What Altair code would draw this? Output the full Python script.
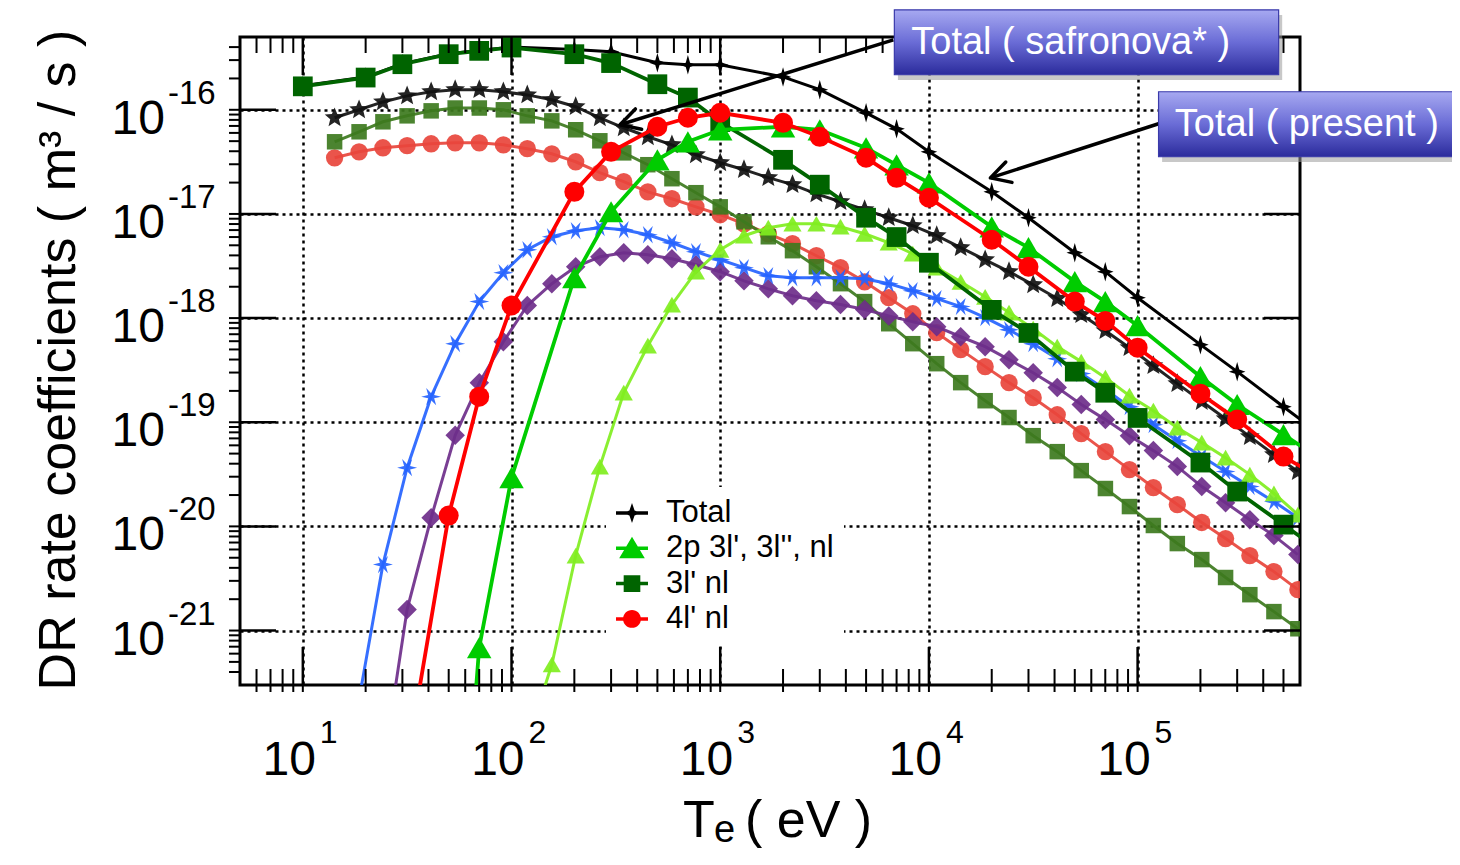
import altair as alt
import pandas as pd

# ---------------- values ----------------
# "present" calculation (crisp curves)
T_PRESENT = [10, 20, 30, 50, 70, 100, 200, 300, 500, 700, 1000, 2000, 3000, 5000, 7000,
             1e4, 2e4, 3e4, 5e4, 7e4, 1e5, 2e5, 3e5, 5e5, 7e5]
TOTAL_PRESENT = [1.70e-16, 2.06e-16, 2.77e-16, 3.45e-16, 3.72e-16, 4.00e-16, 3.80e-16, 3.61e-16,
                 2.83e-16, 2.70e-16, 2.70e-16, 2.07e-16, 1.56e-16, 9.36e-17, 6.57e-17, 3.95e-17,
                 1.63e-17, 9.20e-18, 4.25e-18, 2.79e-18, 1.57e-18, 5.56e-19, 3.06e-19, 1.41e-19, 8.5e-20]
L3_PRESENT = [1.68e-16, 2.04e-16, 2.74e-16, 3.42e-16, 3.68e-16, 3.96e-16, 3.42e-16, 2.81e-16,
              1.76e-16, 1.31e-16, 7.62e-17, 3.31e-17, 1.91e-17, 9.2e-18, 6.0e-18, 3.4e-18,
              1.2e-18, 7.2e-19, 3.06e-19, 1.92e-19, 1.1e-19, 4.1e-20, 2.16e-20, 1.04e-20, 6.4e-21]
L4_PRESENT = [None, None, 3e-23, 1.27e-20, 1.76e-19, 1.32e-18, 1.63e-17, 3.95e-17,
              6.87e-17, 8.38e-17, 9.36e-17, 7.5e-17, 5.5e-17, 3.46e-17, 2.22e-17, 1.43e-17,
              5.65e-18, 3.11e-18, 1.44e-18, 9.4e-19, 5.2e-19, 1.88e-19, 1.06e-19, 4.68e-20, 3.17e-20]
L2P_PRESENT = [None, None, None, 1e-25, 6.87e-22, 2.94e-20, 2.44e-18, 1.05e-17,
               3.31e-17, 4.93e-17, 6.43e-17, 6.87e-17, 6.43e-17, 4.31e-17, 2.96e-17, 1.99e-17,
               7.53e-18, 4.74e-18, 2.24e-18, 1.44e-18, 8.45e-19, 2.74e-19, 1.48e-19, 7.6e-20, 4.9e-20]

# Safronova curves (pasted, soft-looking curves)
T_SAF = [14.2, 18.6, 24.2, 31.6, 41.2, 53.7, 70.1, 91.4, 119, 156, 203, 265, 345, 450, 587,
         765, 1000, 1300, 1700, 2220, 2890, 3770, 4920, 6420, 8370, 10900, 14200, 18600,
         24200, 31600, 41200, 53700, 70100, 91400, 119000, 155000, 203000, 264000, 345000,
         450000, 586000]
TOTAL_SAF = [8.38e-17, 1.00e-16, 1.19e-16, 1.36e-16, 1.49e-16, 1.56e-16, 1.56e-16, 1.49e-16,
             1.39e-16, 1.25e-16, 1.07e-16, 8.38e-17, 6.72e-17, 5.51e-17, 4.61e-17, 3.70e-17,
             3.10e-17, 2.66e-17, 2.23e-17, 1.91e-17, 1.56e-17, 1.31e-17, 1.10e-17, 9.2e-18,
             7.71e-18, 6.18e-18, 4.74e-18, 3.63e-18, 2.79e-18, 2.09e-18, 1.54e-18, 1.08e-18,
             7.57e-19, 5.20e-19, 3.49e-19, 2.35e-19, 1.58e-19, 1.08e-19, 7.28e-20, 4.89e-20, 3.36e-20]
L3_SAF = [4.93e-17, 6.15e-17, 7.67e-17, 8.75e-17, 9.77e-17, 1.04e-16, 1.04e-16, 1.00e-16,
          8.75e-17, 7.83e-17, 6.43e-17, 5.04e-17, 3.86e-17, 2.97e-17, 2.18e-17, 1.60e-17,
          1.17e-17, 8.41e-18, 6.04e-18, 4.44e-18, 3.11e-18, 2.14e-18, 1.44e-18, 8.83e-19,
          5.68e-19, 3.65e-19, 2.40e-19, 1.61e-19, 1.11e-19, 7.43e-20, 5.22e-20, 3.43e-20,
          2.31e-20, 1.55e-20, 1.02e-20, 6.84e-21, 4.80e-21, 3.23e-21, 2.21e-21, 1.52e-21, 1.04e-21]
L4_SAF = [3.46e-17, 3.95e-17, 4.32e-17, 4.52e-17, 4.72e-17, 4.82e-17, 4.82e-17, 4.61e-17,
          4.23e-17, 3.78e-17, 3.17e-17, 2.49e-17, 2.04e-17, 1.63e-17, 1.40e-17, 1.17e-17,
          9.83e-18, 8.05e-18, 6.45e-18, 5.18e-18, 3.97e-18, 3.05e-18, 2.23e-18, 1.57e-18,
          1.10e-18, 7.24e-19, 4.98e-19, 3.42e-19, 2.40e-19, 1.72e-19, 1.18e-19, 7.78e-20,
          5.22e-20, 3.51e-20, 2.36e-20, 1.62e-20, 1.09e-20, 7.64e-21, 5.25e-21, 3.68e-21, 2.47e-21]
BLUE_SAF = [None, 2.18e-22, 4.30e-21, 3.66e-20, 1.76e-19, 5.68e-19, 1.44e-18, 2.73e-18,
            4.53e-18, 6.04e-18, 6.90e-18, 7.38e-18, 7.05e-18, 6.31e-18, 5.29e-18, 4.34e-18,
            3.63e-18, 3.05e-18, 2.55e-18, 2.44e-18, 2.44e-18, 2.44e-18, 2.39e-18, 2.14e-18,
            1.83e-18, 1.54e-18, 1.29e-18, 1.01e-18, 7.74e-19, 5.68e-19, 4.07e-19, 2.93e-19,
            2.06e-19, 1.41e-19, 9.48e-20, 6.65e-20, 4.68e-20, 3.36e-20, 2.41e-20, 1.73e-20, 1.21e-20]
PURPLE_SAF = [None, None, 4.63e-23, 1.59e-21, 1.21e-20, 7.5e-20, 2.40e-19, 5.93e-19,
              1.32e-18, 2.14e-18, 3.11e-18, 3.88e-18, 4.24e-18, 4.06e-18, 3.72e-18, 3.25e-18,
              2.79e-18, 2.28e-18, 1.91e-18, 1.64e-18, 1.47e-18, 1.35e-18, 1.21e-18, 1.05e-18,
              9.23e-19, 8.27e-19, 6.62e-19, 5.32e-19, 3.99e-19, 2.99e-19, 2.15e-19, 1.48e-19,
              1.06e-19, 7.43e-20, 5.34e-20, 3.75e-20, 2.41e-20, 1.69e-20, 1.16e-20, 8.16e-21, 5.36e-21]
LGREEN_SAF = [None, None, None, None, None, None, None, None,
              8.6e-23, 4.72e-22, 5.25e-21, 3.75e-20, 1.92e-19, 5.43e-19, 1.35e-18, 2.79e-18,
              4.53e-18, 6.18e-18, 7.38e-18, 8.05e-18, 8.05e-18, 7.54e-18, 6.45e-18, 5.29e-18,
              4.15e-18, 3.05e-18, 2.23e-18, 1.60e-18, 1.13e-18, 7.91e-19, 5.32e-19, 3.82e-19,
              2.68e-19, 1.80e-19, 1.29e-19, 8.87e-20, 6.37e-20, 4.57e-20, 3.14e-20, 2.07e-20, 1.30e-20]

LEGEND_LABELS = ["Total", "2p 3l', 3l'', nl", "3l' nl", "4l' nl"]

X_MAJOR = [10, 100, 1000, 1e4, 1e5]
X_EXP = ["1", "2", "3", "4", "5"]
Y_MAJOR = [1e-16, 1e-17, 1e-18, 1e-19, 1e-20, 1e-21]
Y_EXP = ["-16", "-17", "-18", "-19", "-20", "-21"]
X_MINOR = [m * 10.0 ** d for d in range(0, 6) for m in range(2, 10) if 5 < m * 10.0 ** d < 6e5]
Y_MINOR = [m * 10.0 ** d for d in range(-22, -15) for m in range(2, 10) if 3e-22 < m * 10.0 ** d < 5e-16]

Y_TITLE = "DR rate coefficients ( m\u00b3 / s )"

# annotation boxes / arrows (in data coordinates)
BOX_LABELS = ["Total ( safronova* )", "Total ( present )"]
BOX_T1 = [6830, 1.26e5]
BOX_T2 = [4.74e5, 3.54e6]
BOX_R1 = [9.12e-16, 1.49e-16]
BOX_R2 = [2.17e-16, 3.54e-17]
TEXT_T = [47800, 6.47e5]
TEXT_R = [4.40e-16, 7.18e-17]
ARROW_TAIL_T = [6760, 1.26e5]
ARROW_TAIL_R = [4.70e-16, 7.35e-17]
ARROW_TIP_T = [331, 19700]
ARROW_TIP_R = [7.18e-17, 2.22e-17]

# ---------------- styling ----------------
F = "Liberation Sans"
W, H = 1060, 648

xs = alt.Scale(type="log", domain=[5, 6e5], nice=False)
ys = alt.Scale(type="log", domain=[3e-22, 5e-16], nice=False)
XAX = alt.Axis(values=X_MAJOR, grid=True, gridDash=[3, 4], gridColor="black", gridWidth=2.5,
               gridOpacity=1, domain=False, ticks=False, labels=False, title=None)
YAX = alt.Axis(values=Y_MAJOR, grid=True, gridDash=[3, 4], gridColor="black", gridWidth=2.5,
               gridOpacity=1, domain=False, ticks=False, labels=False, title=None)


def ex(f="T"):
    return alt.X(f"{f}:Q", scale=xs, axis=XAX)


def ey(f="rate"):
    return alt.Y(f"{f}:Q", scale=ys, axis=YAX)


STAR4 = "M0,-1 L0.22,-0.22 L0.85,0 L0.22,0.22 L0,1 L-0.22,0.22 L-0.85,0 L-0.22,-0.22 Z"
STAR5 = ("M0,-1 L0.26,-0.36 L0.951,-0.309 L0.42,0.137 L0.588,0.809 L0,0.44 "
         "L-0.588,0.809 L-0.42,0.137 L-0.951,-0.309 L-0.26,-0.36 Z")
STAR6 = ("M1,0 L0.3,0.17 L0.5,0.866 L0,0.35 L-0.5,0.866 L-0.3,0.17 L-1,0 L-0.3,-0.17 "
         "L-0.5,-0.866 L0,-0.35 L0.5,-0.866 L0.3,-0.17 Z")
BAR = " M-1,-0.11 L1,-0.11 L1,0.11 L-1,0.11 Z"
LEG_SHAPES = [
    "M0,-0.62 L0.16,-0.16 L0.6,0 L0.16,0.16 L0,0.62 L-0.16,0.16 L-0.6,0 L-0.16,-0.16 Z" + BAR,
    "M0,-0.72 L0.8,0.62 L-0.8,0.62 Z" + BAR,
    "M-0.52,-0.52 L0.52,-0.52 L0.52,0.52 L-0.52,0.52 Z" + BAR,
    "M-0.56,0 A0.56,0.56 0 1,1 0.56,0 A0.56,0.56 0 1,1 -0.56,0 Z" + BAR,
]
LEG_COLORS = ["#000000", "#00cc00", "#006400", "#ff0000"]
VSHAPE = "M1,-0.55 L0,0 L1,0.55"


def series(T, vals, color, shape, size, lw, opacity=1.0):
    df = pd.DataFrame({"T": T, "rate": vals}).dropna()
    base = alt.Chart(df)
    line = base.mark_line(color=color, strokeWidth=lw, clip=True, opacity=opacity).encode(
        x=ex(), y=ey())
    pts = base.mark_point(shape=shape, size=size, filled=True, color=color, strokeWidth=0,
                          opacity=opacity, clip=True).encode(x=ex(), y=ey())
    return [line, pts]


layers = []
# soft (Safronova) curves
layers += series(T_SAF, L4_SAF, "#e8453c", "circle", 300, 3, 0.92)
layers += series(T_SAF, L3_SAF, "#3d7a1e", "square", 240, 3, 0.92)
layers += series(T_SAF, PURPLE_SAF, "#6e2e8a", "diamond", 380, 3, 0.92)
layers += series(T_SAF, BLUE_SAF, "#2563ff", STAR6, 400, 3, 0.92)
layers += series(T_SAF, LGREEN_SAF, "#80ee20", "triangle-up", 330, 3, 0.92)
layers += series(T_SAF, TOTAL_SAF, "#111111", STAR5, 430, 3, 0.92)
# present curves
layers += series(T_PRESENT, TOTAL_PRESENT, "#000000", STAR4, 380, 3)
layers += series(T_PRESENT, L3_PRESENT, "#006400", "square", 390, 3.8)
layers += series(T_PRESENT, L2P_PRESENT, "#00cc00", "triangle-up", 600, 3.8)
layers += series(T_PRESENT, L4_PRESENT, "#ff0000", "circle", 400, 3.8)

# legend-only layer (marks fall outside the plot and are clipped)
LEG = alt.Legend(title=None, orient="none", legendX=366, legendY=450, fillColor="white",
                 padding=10, symbolSize=1024, symbolStrokeWidth=0, labelFontSize=31,
                 labelFont=F, labelColor="black", labelOffset=18, rowPadding=4.3,
                 symbolOpacity=1, labelLimit=400, zindex=1)
leg_df = pd.DataFrame({"T": [1.0] * 4, "rate": [1e-30] * 4, "lg": LEGEND_LABELS})
layers.append(
    alt.Chart(leg_df).mark_point(filled=True, opacity=1, clip=True, strokeWidth=0).encode(
        x=ex(), y=ey(),
        color=alt.Color("lg:N", scale=alt.Scale(domain=LEGEND_LABELS, range=LEG_COLORS), legend=LEG),
        shape=alt.Shape("lg:N", scale=alt.Scale(domain=LEGEND_LABELS, range=LEG_SHAPES), legend=LEG),
    )
)


# tick marks
def xrule(vals, y1, y2, w=2):
    return alt.Chart(pd.DataFrame({"T": vals})).mark_rule(color="black", strokeWidth=w).encode(
        x=ex(), y=alt.value(y1), y2=alt.value(y2))


def yrule(vals, x1, x2, w=2):
    return alt.Chart(pd.DataFrame({"rate": vals})).mark_rule(color="black", strokeWidth=w).encode(
        y=ey(), x=alt.value(x1), x2=alt.value(x2))


layers += [
    xrule(X_MAJOR, H, H - 38, 2.5), xrule(X_MINOR, H, H - 16), xrule(X_MAJOR + X_MINOR, H, H + 7),
    xrule(X_MAJOR, 0, 38, 2.5), xrule(X_MINOR, 0, 16),
    yrule(Y_MAJOR, 0, 36, 2.5), yrule(Y_MAJOR + Y_MINOR, -11, 0), yrule(Y_MAJOR, W - 36, W, 2.5),
]

# tick labels
xl_df = pd.DataFrame({"T": X_MAJOR, "exp": X_EXP})
layers.append(alt.Chart(xl_df).mark_text(text="10", font=F, fontSize=48, align="right",
                                         baseline="alphabetic", dx=13, color="black").encode(
    x=ex(), y=alt.value(H + 90)))
layers.append(alt.Chart(xl_df).mark_text(font=F, fontSize=32, align="left",
                                         baseline="alphabetic", dx=17, color="black").encode(
    x=ex(), y=alt.value(H + 58), text="exp:N"))
yl_df = pd.DataFrame({"rate": Y_MAJOR, "exp": Y_EXP})
layers.append(alt.Chart(yl_df).mark_text(text="10", font=F, fontSize=48, align="right",
                                         baseline="alphabetic", dy=24, color="black").encode(
    y=ey(), x=alt.value(-75)))
layers.append(alt.Chart(yl_df).mark_text(font=F, fontSize=33, align="left",
                                         baseline="alphabetic", dy=-6, color="black").encode(
    y=ey(), x=alt.value(-72), text="exp:N"))

# axis titles
one = pd.DataFrame({"a": [0]})
layers.append(alt.Chart(one).mark_text(text=Y_TITLE, font=F, fontSize=52, angle=270, align="center",
                                       baseline="alphabetic", color="black").encode(
    x=alt.value(-165), y=alt.value(323)))
layers.append(alt.Chart(one).mark_text(text="T", font=F, fontSize=52, align="left",
                                       baseline="alphabetic", color="black").encode(
    x=alt.value(443), y=alt.value(H + 152)))
layers.append(alt.Chart(one).mark_text(text="e", font=F, fontSize=38, align="left",
                                       baseline="alphabetic", color="black").encode(
    x=alt.value(474), y=alt.value(H + 157)))
layers.append(alt.Chart(one).mark_text(text="( eV )", font=F, fontSize=52, align="left",
                                       baseline="alphabetic", color="black").encode(
    x=alt.value(505), y=alt.value(H + 152)))

# arrows
arr_df = pd.DataFrame({"T": ARROW_TAIL_T, "rate": ARROW_TAIL_R, "T2": ARROW_TIP_T, "rate2": ARROW_TIP_R})
layers.append(alt.Chart(arr_df).mark_rule(color="black", strokeWidth=3.5).encode(
    x=ex(), y=ey(), x2="T2:Q", y2="rate2:Q"))
head_df = pd.DataFrame({"T": ARROW_TIP_T, "rate": ARROW_TIP_R})
layers.append(alt.Chart(head_df).mark_point(shape=VSHAPE, size=1500, filled=False, color="black",
                                            strokeWidth=3.5, opacity=1, angle=343,
                                            strokeCap="round", strokeJoin="round").encode(
    x=ex(), y=ey()))

# annotation boxes
box_df = pd.DataFrame({"T": BOX_T1, "T2": BOX_T2, "rate": BOX_R1, "rate2": BOX_R2})
shadow_df = pd.DataFrame({"T": [t * 1.04 for t in BOX_T1], "T2": [t * 1.04 for t in BOX_T2],
                          "rate": [r * 0.89 for r in BOX_R1], "rate2": [r * 0.89 for r in BOX_R2]})
layers.append(alt.Chart(shadow_df).mark_rect(color="#9a9a9a", opacity=0.55).encode(
    x=ex(), x2="T2:Q", y=ey(), y2="rate2:Q"))
grad = alt.Gradient(gradient="linear",
                    stops=[alt.GradientStop(color="#a7a9f1", offset=0),
                           alt.GradientStop(color="#6a6cd6", offset=0.5),
                           alt.GradientStop(color="#2b2b9c", offset=1)],
                    x1=0, x2=0, y1=0, y2=1)
layers.append(alt.Chart(box_df).mark_rect(fill=grad, stroke="#3a3aaa", strokeWidth=1.2).encode(
    x=ex(), x2="T2:Q", y=ey(), y2="rate2:Q"))
txt_df = pd.DataFrame({"T": TEXT_T, "rate": TEXT_R, "label": BOX_LABELS})
layers.append(alt.Chart(txt_df).mark_text(font=F, fontSize=38, color="white", align="center",
                                          baseline="middle").encode(
    x=ex(), y=ey(), text="label:N"))

chart = alt.layer(*layers).properties(
    width=W, height=H,
    background="white",
    autosize=alt.AutoSizeParams(type="none"),
    padding={"left": 232, "top": 29, "right": 152, "bottom": 167},
).configure_view(stroke="black", strokeWidth=3)

chart.save("out.html", embed_options={"renderer": "svg", "actions": False})
